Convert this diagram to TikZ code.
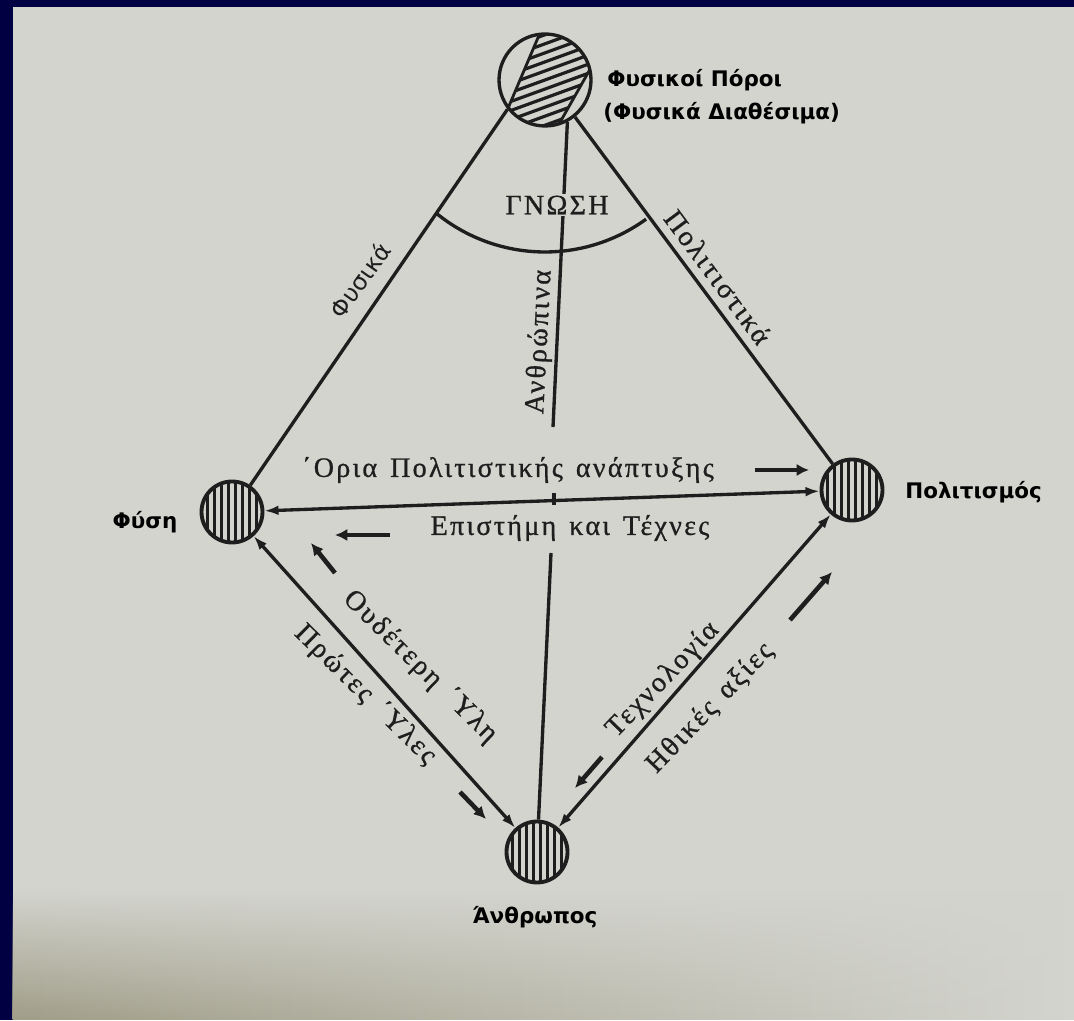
\documentclass[tikz,border=0pt]{standalone}
\usepackage{fontspec}
\setmainfont{Liberation Serif}
\newfontfamily\bookfont[LetterSpace=8, WordSpace=1.4, FakeBold=0.8]{Liberation Serif}
\newfontfamily\labelfont{DejaVu Sans}
\usetikzlibrary{arrows.meta,fadings}

\definecolor{frame}{RGB}{0,0,66}
\definecolor{paper}{RGB}{211,212,206}
\definecolor{stain}{RGB}{160,157,136}
\definecolor{ink}{RGB}{30,30,30}

\begin{document}
\begin{tikzpicture}
    [x=0.02cm, y=0.02cm,
      line/.style={ink, line width=1.9pt},
      link/.style={line, {Latex[length=8pt,width=5.5pt]}-{Latex[length=8pt,width=5.5pt]}},
      flow/.style={ink, line width=2.6pt, -{Latex[length=7pt,width=7pt]}},
      hub/.style={
        circle,
        draw=ink,
        fill=ink,
        line width=2.2pt,
        minimum size=1.22cm,
        inner sep=0pt,
        path picture={
          \begin{scope}[shift={(path picture bounding box.center)}, rotate=12]
            \foreach \k in {-4,...,4}
              \draw[paper, line width=2pt] (\k*7,-40) -- (\k*7,40);
          \end{scope}}
      },
      source/.style={circle, draw=ink, line width=1.9pt, minimum size=1.84cm, inner sep=0pt},
      caption/.style={font=\labelfont\bfseries\fontsize{12.2}{15}\selectfont, text=black, inner sep=0pt},
      word/.style={font=\bookfont\fontsize{16}{19}\selectfont, text=ink, inner sep=1pt},
      sideword/.style={font=\labelfont\fontsize{13.5}{16}\selectfont, text=ink, inner sep=1pt}
    ]
    % paper and frame
    \fill[frame] (0,0) rectangle (1074,1020);
    \fill[paper] (13,0) rectangle (1074,1013);
    \shade[left color=stain, right color=paper, path fading=north] (13,0) rectangle (1074,130);

    % the four circles
    \node[source] (poroi) at (545,940) {};
    \node[hub] (fysi) at (232,508) {};
    \node[hub] (politismos) at (852,530) {};
    \node[hub] (anthropos) at (537,168) {};

    % hatched part of the top circle
    \begin{scope}
      \clip ([shift={(97:46)}]poroi.center) arc[start angle=97, end angle=13, radius=46]
        -- ([shift={(288:46)}]poroi.center) arc[start angle=288, end angle=217, radius=46] -- cycle;
      \begin{scope}[shift={(poroi.center)}, rotate=20]
        \foreach \k in {-6,...,6}
          \draw[ink, line width=1.8pt] (-60,\k*8.5) -- (60,\k*8.5);
      \end{scope}
    \end{scope}
    \draw[ink, line width=1.6pt] ([shift={(217:46)}]poroi.center) -- ([shift={(97:46)}]poroi.center);
    \draw[ink, line width=1.6pt] ([shift={(13:46)}]poroi.center) -- ([shift={(288:46)}]poroi.center);

    % upper lines
    \coordinate (midhigh) at (553,593);
    \draw[line] (poroi.218) -- (fysi);
    \draw[line] (poroi.309) -- (politismos);
    \draw[line] (poroi.298) -- (midhigh);
    \draw[line] ([shift={(231:172)}]poroi.center) arc[start angle=231, end angle=306, radius=172];
    \node[word, fill=paper] (gnosi) at (557,815) {ΓΝΩΣΗ};

    % lower lines
    \coordinate (tick) at (554,521);
    \coordinate (midlow) at (551,467);
    \draw[link] (fysi) -- (politismos);
    \draw[line] (tick) ++(0,6) -- ++(0,-12);
    \draw[line] (midlow) -- (anthropos);
    \draw[link] (fysi) -- (anthropos);
    \draw[link] (anthropos) -- (politismos);

    % free arrows
    \coordinate (r1) at (755,550);  \coordinate (r2) at (809,550);
    \coordinate (l1) at (390,485);  \coordinate (l2) at (335,485);
    \coordinate (ul1) at (335,447); \coordinate (ul2) at (311,477);
    \coordinate (dr1) at (460,228); \coordinate (dr2) at (486,201);
    \coordinate (dl1) at (602,263); \coordinate (dl2) at (575,232);
    \coordinate (ur1) at (790,400); \coordinate (ur2) at (832,448);
    \draw[flow] (r1) -- (r2);
    \draw[flow] (l1) -- (l2);
    \draw[flow] (ul1) -- (ul2);
    \draw[flow] (dr1) -- (dr2);
    \draw[flow] (dl1) -- (dl2);
    \draw[flow] (ur1) -- (ur2);

    % texts on the lines
    \node[word] (oria) at (508,550) {΄Ορια Πολιτιστικής ανάπτυξης};
    \node[word] (episteme) at (570,492) {Επιστήμη και Τέχνες};
    \node[sideword, rotate=54.5] (fysika) at (360,740) {Φυσικά};
    \node[word, rotate=-53.4] (politistika) at (718,743) {Πολιτιστικά};
    \node[word, rotate=87] (anthropina) at (540,678) {Ανθρώπινα};
    \node[word, rotate=-44.5] (oudeteri) at (420,353) {Ουδέτερη ΄Υλη};
    \node[word, rotate=-44.5] (protes) at (365,325) {Πρώτες ΄Υλες};
    \node[word, rotate=46] (texnologia) at (663,340) {Τεχνολογία};
    \node[word, rotate=46] (ithikes) at (710,312) {Ηθικές αξίες};

    % captions
    \node[caption, anchor=west] (poroititle) at (607,940) {Φυσικοί Πόροι};
    \node[caption, anchor=west] (diathesima) at (603,907) {(Φυσικά Διαθέσιμα)};
    \node[caption] (fysititle) at (145,498) {Φύση};
    \node[caption, anchor=west] (politismostitle) at (905,528) {Πολιτισμός};
    \node[caption] (anthropostitle) at (535,103) {Άνθρωπος};
\end{tikzpicture}
\end{document}
